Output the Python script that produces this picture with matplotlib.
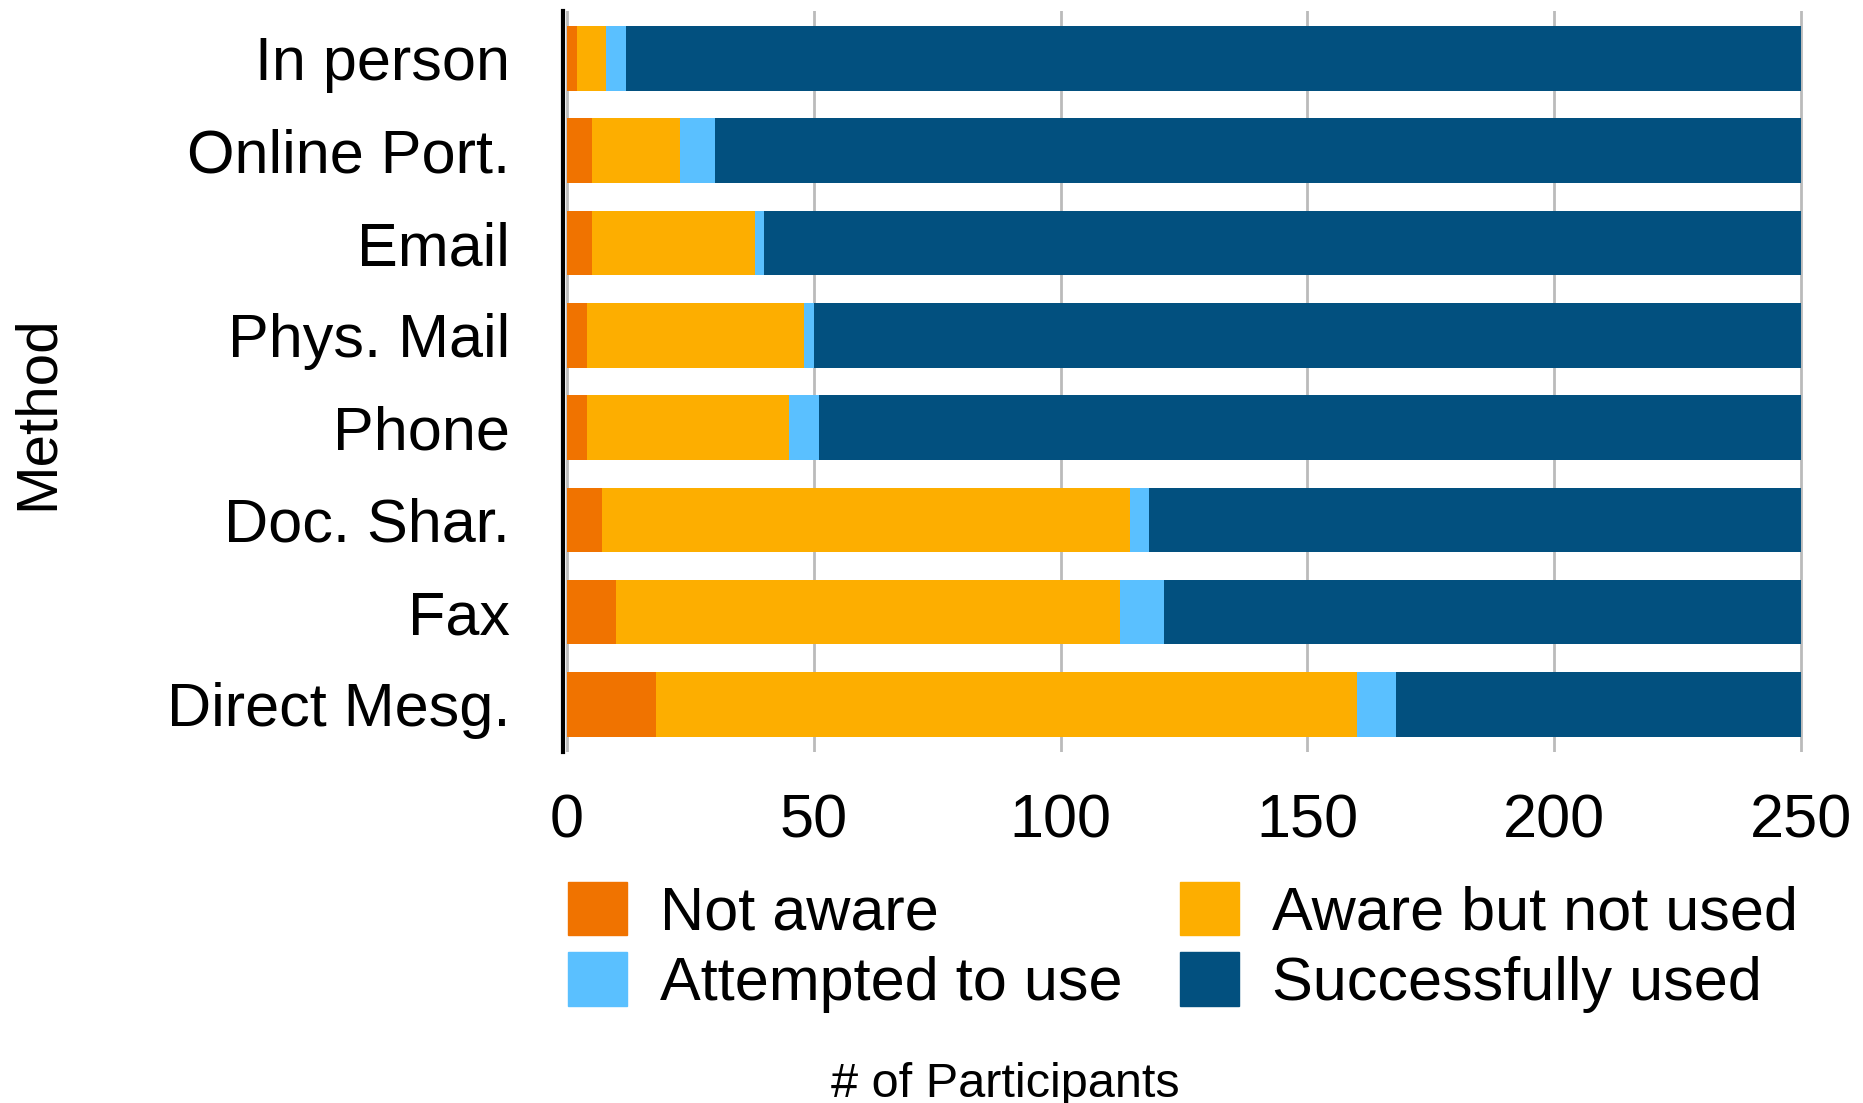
import matplotlib
matplotlib.use("Agg")
import matplotlib.pyplot as plt
import numpy as np
from matplotlib.patches import Patch

plt.rcParams['font.family'] = ['Liberation Sans', 'DejaVu Sans']

methods = ["In person", "Online Port.", "Email", "Phys. Mail", "Phone",
           "Doc. Shar.", "Fax", "Direct Mesg."]
not_aware = [2, 5, 5, 4, 4, 7, 10, 18]
aware_not_used = [6, 18, 33, 44, 41, 107, 102, 142]
attempted = [4, 7, 2, 2, 6, 4, 9, 8]
successful = [238, 220, 210, 200, 199, 132, 129, 82]

series_names = ["Not aware", "Aware but not used", "Attempted to use", "Successfully used"]
colors = ["#F07300", "#FDAE00", "#5AC0FF", "#02507F"]
xticks = [0, 50, 100, 150, 200, 250]

fig = plt.figure(figsize=(18.63, 11.03), dpi=100)
ax = fig.add_axes([0.3022, 0.3185, 0.6656, 0.6713])

y = np.arange(len(methods))
left = np.zeros(len(methods))
for vals, c in zip([not_aware, aware_not_used, attempted, successful], colors):
    ax.barh(y, vals, left=left, height=0.70, color=c, zorder=2)
    left += np.array(vals)

ax.set_xlim(-0.8, 250.4)
ax.set_ylim(len(methods) - 0.5 + 0.012, -0.512)
ax.set_yticks(y)
ax.set_yticklabels(methods, fontsize=44)
ax.set_xticks(xticks)
ax.set_xticklabels([str(t) for t in xticks], fontsize=44)
ax.tick_params(axis='y', length=0, pad=38)
ax.tick_params(axis='x', length=0, pad=30)
for s in ["top", "right", "bottom"]:
    ax.spines[s].set_visible(False)
ax.spines["left"].set_linewidth(3)
ax.spines["left"].set_color("black")
ax.xaxis.grid(True, color="#BBBBBB", linewidth=2, zorder=0)
ax.set_axisbelow(True)

handles = [Patch(color=colors[0]), Patch(color=colors[2]),
           Patch(color=colors[1]), Patch(color=colors[3])]
labels = [series_names[0], series_names[2], series_names[1], series_names[3]]
fig.legend(handles, labels, loc="upper left", bbox_to_anchor=(0.3048, 0.2007),
           ncol=2, frameon=False, fontsize=44, handlelength=0.97, handleheight=0.97,
           handletextpad=0.53, columnspacing=0.95, labelspacing=0.16, borderpad=0,
           borderaxespad=0)

fig.text(0.5395, 0.017, "# of Participants", fontsize=35, ha="center", va="center")
fig.text(0.0204, 0.6255, "Method", fontsize=42, rotation=90, ha="center", va="center")

fig.savefig("out.png", dpi=100)
